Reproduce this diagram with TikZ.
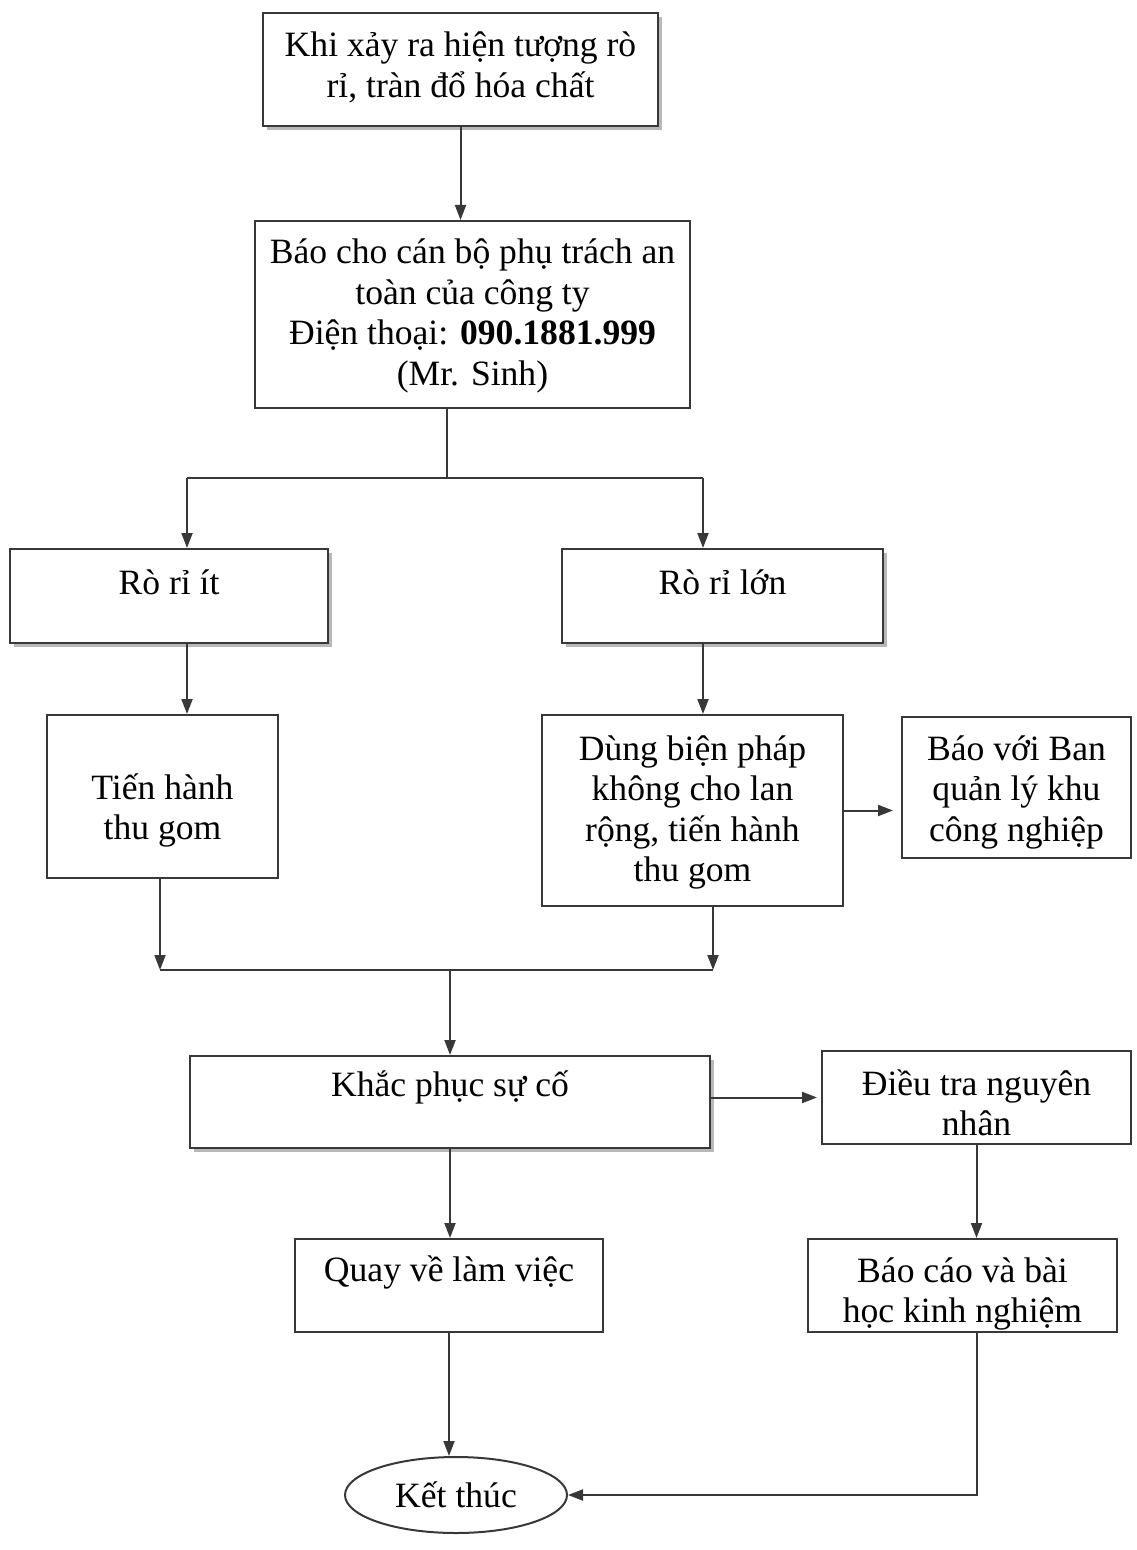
\documentclass[tikz,border=0pt]{standalone}
\usepackage{fontspec}
\setmainfont{Liberation Serif}
\usepackage{xcolor}
\usetikzlibrary{positioning,arrows.meta,shapes.geometric,shadows}
\definecolor{cLine} {HTML}{383838}
\definecolor{cShade}{HTML}{a6a6a6}

\begin{document}
\begin{tikzpicture}[x=0.5pt,y=-0.5pt,
    box/.style={draw=cLine,line width=1pt,fill=white,align=center,inner sep=0pt,anchor=north,
      font=\fontsize{17.8}{20.25}\selectfont},
    shade/.style={drop shadow={shadow xshift=2pt,shadow yshift=-2pt,fill=cShade,opacity=0.8}},
    link/.style={draw=cLine,line width=1pt},
    arr/.style={link,-{Triangle[length=7.5pt,width=5.5pt]}}]
  \useasboundingbox (0,0) rectangle (1136,1550);

  % boxes, placed by their top edge (text height runs to the last baseline)
  \node[box,shade,minimum width=197.5pt,text height=42pt,text depth=14.5pt] (spill) at (460.5,12.5)
    {Khi xảy ra hiện tượng rò\\rỉ, tràn đổ hóa chất};
  \node[box,minimum width=217.5pt,text height=82.25pt,text depth=11.25pt] (report) at (472.5,220)
    {Báo cho cán bộ phụ trách an\\toàn của công ty\\Điện thoại: \textbf{090.1881.999}\\(Mr. Sinh)};
  \node[box,shade,minimum width=159pt,text height=22.5pt,text depth=24.5pt] (minor) at (169,548) {Rò rỉ ít};
  \node[box,shade,minimum width=160.5pt,text height=22.5pt,text depth=24.5pt] (major) at (722.5,548) {Rò rỉ lớn};
  \node[box,minimum width=115.5pt,text height=62.25pt,text depth=19.25pt] (collect) at (162.5,714) {Tiến hành\\thu gom};
  \node[box,minimum width=150.5pt,text height=83.25pt,text depth=12.25pt] (contain) at (692.5,714)
    {Dùng biện pháp\\không cho lan\\rộng, tiến hành\\thu gom};
  \node[box,minimum width=114.5pt,text height=62pt,text depth=8.5pt] (authority) at (1016.5,716)
    {Báo với Ban\\quản lý khu\\công nghiệp};
  \node[box,shade,minimum width=260pt,text height=20pt,text depth=26pt] (fix) at (450,1055) {Khắc phục sự cố};
  \node[box,minimum width=154.5pt,text height=42.25pt,text depth=4.25pt] (cause) at (976.5,1050) {Điều tra nguyên\\nhân};
  \node[box,minimum width=154pt,text height=21pt,text depth=25.5pt] (resume) at (449,1238) {Quay về làm việc};
  \node[box,minimum width=154.5pt,text height=41.75pt,text depth=4.75pt] (lesson) at (962.5,1238) {Báo cáo và bài\\học kinh nghiệm};
  \node[box,ellipse,anchor=center,minimum width=111pt,minimum height=38pt] (finish) at (456,1495) {Kết thúc};

  % branch and join points
  \coordinate (split)  at (447,478);
  \coordinate (splitL) at (187,478);
  \coordinate (splitR) at (703,478);
  \coordinate (joinL)  at (160,970);
  \coordinate (joinR)  at (713,970);
  \coordinate (joinM)  at (450,970);

  \draw[arr] (spill.south) -- (spill.south |- report.north);
  \draw[link] (report.south -| split) -- (split);
  \draw[link] (splitL) -- (splitR);
  \draw[arr] (splitL) -- (splitL |- minor.north);
  \draw[arr] (splitR) -- (splitR |- major.north);
  \draw[arr] (minor.south -| splitL) -- (collect.north -| splitL);
  \draw[arr] (major.south -| splitR) -- (contain.north -| splitR);
  \draw[arr,shorten >=4pt] (contain.east) -- (contain.east -| authority.west);
  \draw[arr] (collect.south -| joinL) -- (joinL);
  \draw[arr] (contain.south -| joinR) -- (joinR);
  \draw[link] (joinL) -- (joinR);
  \draw[arr] (joinM) -- (fix.north -| joinM);
  \draw[arr,shorten >=2pt] (fix.east |- cause.west) -- (cause.west);
  \draw[arr] (fix.south) -- (fix.south |- resume.north);
  \draw[arr] (cause.south) -- (cause.south |- lesson.north);
  \draw[arr] (resume.south) -- (resume.south |- finish.north);
  \draw[arr] (lesson.south -| cause.south) |- (finish.east);
\end{tikzpicture}
\end{document}
